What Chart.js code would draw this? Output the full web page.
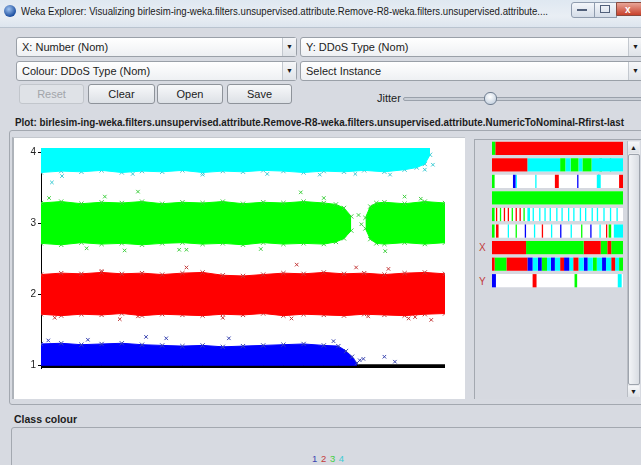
<!DOCTYPE html>
<html>
<head>
<meta charset="utf-8">
<script src="https://cdn.jsdelivr.net/npm/chart.js@4"></script>
<style>
  body { margin: 0; width: 641px; height: 465px; overflow: hidden; position: relative;
         background: #d7dae1; font-family: 'Liberation Sans', Arial, sans-serif; font-size: 11px; color: #1c1c1c; }
  .abs { position: absolute; }
  .titlebar { left: 0; top: 0; width: 641px; height: 27px;
              background: linear-gradient(#dfe8f1, #e9eef4 60%, #dde5ee); border-bottom: 1px solid #b9c3cf; }
  .combo { height: 18px; border: 1px solid #9aa0a8; border-radius: 3px; background: linear-gradient(#ffffff, #eef0f3); }
  .combo span { position: absolute; left: 5px; top: 3px; white-space: nowrap; }
  .combo b { position: absolute; right: 0; top: 0; width: 13px; height: 18px; font-size: 7px; line-height: 18px;
             text-align: center; font-weight: normal; background: linear-gradient(#f6f7f9, #dfe3e8); border-left: 1px solid #c3c8cf; }
  .btn { height: 18px; border: 1px solid #8e939a; border-radius: 3px; background: linear-gradient(#f7f8fa, #dde1e6);
         text-align: center; line-height: 18px; }
  .fit { white-space: nowrap; transform-origin: 0 50%; display: inline-block; }
  .frame { border: 1px solid #a3a8b0; border-radius: 3px; }
</style>
</head>
<body>
<div class="abs titlebar"></div>
<div class="abs" style="left:4px;top:5px;width:12px;height:12px;border-radius:6px;background:radial-gradient(circle at 40% 35%, #9fc3f0, #1d4fa0 70%);"></div>
<div class="abs fit" id="title" data-w="527" style="left:21px;top:5px;font-size:11.5px;color:#1a1a1a;">Weka Explorer: Visualizing birlesim-ing-weka.filters.unsupervised.attribute.Remove-R8-weka.filters.unsupervised.attribute....</div>
<div class="abs" style="left:571px;top:2px;width:22px;height:14px;border:1px solid #8f9cae;border-radius:3px 0 0 3px;background:linear-gradient(#f3f6fa,#d5dde8);"></div>
<div class="abs" style="left:577px;top:9px;width:10px;height:2px;background:#51607a;"></div>
<div class="abs" style="left:594px;top:2px;width:21px;height:14px;border:1px solid #8f9cae;background:linear-gradient(#f3f6fa,#d5dde8);"></div>
<div class="abs" style="left:600px;top:5px;width:8px;height:6px;border:1px solid #51607a;"></div>
<div class="abs" style="left:616px;top:2px;width:30px;height:14px;border:1px solid #8a4a3e;border-radius:0 3px 3px 0;background:linear-gradient(#e8a597,#c8412c);color:#fff;font-weight:bold;font-size:10px;line-height:14px;padding-left:8px;box-sizing:border-box;">x</div>

<div class="abs combo" style="left:16px;top:37px;width:279px;"><span>X: Number (Nom)</span><b>&#9660;</b></div>
<div class="abs combo" style="left:300px;top:37px;width:345px;"><span>Y: DDoS Type (Nom)</span><b style="right:4px">&#9660;</b></div>
<div class="abs combo" style="left:16px;top:61px;width:279px;"><span>Colour: DDoS Type (Nom)</span><b>&#9660;</b></div>
<div class="abs combo" style="left:300px;top:61px;width:345px;"><span>Select Instance</span><b style="right:4px">&#9660;</b></div>

<div class="abs btn" style="left:19px;top:84px;width:63px;color:#a2a5aa;border-color:#c2c6cc;background:#dfe2e7;">Reset</div>
<div class="abs btn" style="left:88px;top:84px;width:65px;">Clear</div>
<div class="abs btn" style="left:157px;top:84px;width:64px;">Open</div>
<div class="abs btn" style="left:227px;top:84px;width:63px;">Save</div>

<div class="abs" style="left:377px;top:92px;">Jitter</div>
<div class="abs" style="left:403px;top:97px;width:245px;height:2px;border:1px solid #9aa1ab;border-radius:2px;background:#c9ced6;"></div>
<div class="abs" style="left:484px;top:92px;width:11px;height:11px;border-radius:6px;border:1px solid #6f7d90;background:radial-gradient(circle at 45% 35%, #ffffff, #b7c6d8);"></div>

<div class="abs fit" id="plotlabel" data-w="609" style="left:15px;top:116px;font-weight:bold;font-size:10.5px;">Plot: birlesim-ing-weka.filters.unsupervised.attribute.Remove-R8-weka.filters.unsupervised.attribute.NumericToNominal-Rfirst-last</div>

<div class="abs frame" style="left:9px;top:130px;width:640px;height:273px;"></div>
<div class="abs" style="left:12px;top:137px;width:451px;height:261px;background:#fff;border-left:2px solid #aeb3ba;border-top:1px solid #c4c8ce;"></div>
<canvas id="plot" class="abs" width="430" height="236" style="left:20px;top:140px;"></canvas>

<div class="abs" style="left:474px;top:139px;width:166px;height:259px;border-left:1px solid #a3a8b0;border-top:1px solid #a3a8b0;background:#d6d9e0;"></div>
<canvas id="strips" class="abs" width="131" height="149" style="left:492px;top:140px;"></canvas>
<div class="abs" style="left:479px;top:242px;color:#c23b3b;font-size:10px;">X</div>
<div class="abs" style="left:479px;top:276px;color:#c23b3b;font-size:10px;">Y</div>
<div class="abs" style="left:627px;top:141px;width:12px;height:256px;background:#e8eaee;border-left:1px solid #b9bdc4;"></div>
<div class="abs" style="left:628px;top:142px;width:11px;height:11px;font-size:7px;text-align:center;line-height:11px;background:linear-gradient(#f6f7f9,#dde1e6);">&#9650;</div>
<div class="abs" style="left:628px;top:154px;width:10px;height:229px;border:1px solid #9ea4ad;border-radius:2px;background:linear-gradient(90deg,#f2f4f7,#d9dde3);"></div>
<div class="abs" style="left:628px;top:386px;width:11px;height:11px;font-size:7px;text-align:center;line-height:11px;background:linear-gradient(#f6f7f9,#dde1e6);">&#9660;</div>

<div class="abs" style="left:14px;top:413px;font-weight:bold;font-size:10.5px;">Class colour</div>
<div class="abs frame" style="left:11px;top:427px;width:640px;height:60px;"></div>
<div class="abs" id="classlegend" style="left:312px;top:453px;font-size:9.5px;word-spacing:1px;"></div>

<script>
// y ticks and class names / colours
const yTicks = [1, 2, 3, 4];
const classNames = ['1', '2', '3', '4'];
const classColours = ['#0000ff', '#ff0000', '#00ff00', '#00ffff'];
const markColours = ['#3a45b0', '#c43a3a', '#3fcf3f', '#3ccbd3'];

// class 4 band (cyan)
const cyanX = [0, 5, 10, 15, 20, 25, 30, 35, 40, 45, 50, 55, 60, 65, 70, 75, 80, 85, 90, 93, 95, 96.3];
const cyanTop = [4.1, 4.1, 4.1, 4.1, 4.1, 4.1, 4.1, 4.1, 4.1, 4.1, 4.1, 4.1, 4.1, 4.1, 4.1, 4.1, 4.1, 4.1, 4.1, 4.1, 4.1, 4.08];
const cyanBottom = [3.72, 3.74, 3.73, 3.75, 3.72, 3.74, 3.73, 3.75, 3.72, 3.74, 3.73, 3.75, 3.74, 3.72, 3.74, 3.73, 3.75, 3.73, 3.76, 3.79, 3.84, 3.97];

// class 3 band (green), two parts
const greenLeftX = [0, 5, 10, 15, 20, 25, 30, 35, 40, 45, 50, 55, 60, 65, 70, 73, 75, 76.8];
const greenLeftTop = [3.29, 3.31, 3.28, 3.30, 3.29, 3.31, 3.28, 3.30, 3.29, 3.31, 3.28, 3.30, 3.29, 3.31, 3.29, 3.27, 3.22, 3.10];
const greenLeftBottom = [2.72, 2.70, 2.73, 2.71, 2.72, 2.70, 2.72, 2.73, 2.71, 2.72, 2.70, 2.73, 2.71, 2.72, 2.71, 2.74, 2.79, 2.90];
const greenRightX = [80.3, 81.5, 83, 85, 90, 95, 100];
const greenRightTop = [3.08, 3.24, 3.29, 3.30, 3.28, 3.31, 3.29];
const greenRightBottom = [2.93, 2.78, 2.72, 2.71, 2.73, 2.71, 2.73];

// class 2 band (red)
const redX = [0, 5, 10, 15, 20, 25, 30, 35, 40, 45, 50, 55, 60, 65, 70, 75, 80, 85, 90, 95, 100];
const redTop = [2.28, 2.30, 2.29, 2.31, 2.29, 2.30, 2.28, 2.30, 2.31, 2.27, 2.26, 2.28, 2.30, 2.29, 2.31, 2.29, 2.30, 2.28, 2.30, 2.31, 2.29];
const redBottom = [1.72, 1.70, 1.72, 1.71, 1.73, 1.70, 1.72, 1.71, 1.70, 1.72, 1.71, 1.73, 1.70, 1.72, 1.71, 1.70, 1.72, 1.71, 1.70, 1.72, 1.73];

// class 1 band (blue)
const blueX = [0, 5, 10, 15, 20, 25, 30, 35, 40, 45, 50, 55, 60, 65, 70, 73.6, 75.5, 77, 78.2];
const blueTop = [1.30, 1.31, 1.29, 1.30, 1.31, 1.29, 1.28, 1.27, 1.28, 1.26, 1.27, 1.28, 1.29, 1.30, 1.28, 1.27, 1.20, 1.12, 1.03];
const blueBottom = [1, 1, 1, 1, 1, 1, 1, 1, 1, 1, 1, 1, 1, 1, 1, 1, 1, 1, 1];

// stray points outside the bands
const blueOut = [[1.8, 1.35], [11.6, 1.36], [26, 1.40], [31, 1.38], [46.5, 1.38], [72.4, 1.34], [78.9, 1.07], [79.8, 1.09], [85, 1.12], [87.6, 1.05]];
const redOut = [[3.4, 1.67], [15, 2.33], [19.5, 1.65], [24, 1.69], [36, 2.38], [45, 1.67], [62, 1.66], [63.3, 2.42], [78, 2.38], [81, 1.69], [86, 2.36], [91, 1.66], [92.6, 1.68], [96.6, 1.64]];
const greenOut = [[2, 3.36], [11.3, 2.65], [15.8, 3.38], [20.7, 2.62], [24, 3.45], [34.2, 2.63], [36, 2.63], [54.4, 2.64], [64.3, 3.44], [70, 3.36], [78.6, 3.12], [79.3, 2.99], [85.2, 2.61], [90, 3.38], [94, 3.35]];
const cyanOut = [[2.7, 3.58], [5.2, 3.67], [22.7, 3.70], [40, 3.69], [56, 3.70], [69, 3.69], [77.8, 3.70], [86.4, 3.69], [95, 3.76], [97, 3.83]];

// x axis bar along y = 1
const axisX = [0, 100];
const axisY = [0.985, 0.985];

// attribute strips on the right: [start, end, class index]
const stripNames = ['a1', 'a2', 'a3', 'a4', 'a5', 'a6', 'a7', 'a8', 'a9'];
const strip1 = [[0, 2.5, 2], [2.5, 100, 1]];
const strip2 = [[0, 27, 1], [27, 52, 3], [52, 56, 2], [56, 60, 3], [60, 66, 2], [66, 69, 3], [69, 76, 2], [76, 100, 3], [82, 84, 2], [90, 91, 2]];
const strip3 = [[0, 2, 2], [16, 18, 0], [18, 19, 3], [33, 34, 3], [48, 51, 1], [65, 66, 0], [80, 83, 3], [81, 82, 0], [97, 100, 1]];
const strip4 = [[0, 100, 2]];
const strip5 = [[0, 2, 2], [3, 4, 1], [6, 7, 2], [9, 10, 1], [12, 13, 1], [15, 16, 2], [18, 19, 1], [21, 22, 1], [24, 25, 2], [27, 29, 3], [31, 32, 3], [36, 37, 3], [40, 41, 3], [44, 45, 3], [49, 50, 3], [53, 54, 3], [58, 59, 3], [62, 63, 3], [67, 68, 3], [71, 72, 3], [76, 77, 3], [80, 81, 3], [85, 86, 3], [90, 91, 3], [95, 96, 3]];
const strip6 = [[0, 2, 2], [3, 5, 1], [12, 13, 3], [18, 19, 2], [25, 26, 0], [32, 33, 3], [38, 39, 1], [45, 46, 3], [52, 53, 0], [60, 61, 3], [68, 69, 2], [75, 76, 0], [82, 83, 3], [87, 88, 1], [89, 91, 2], [93, 100, 3]];
const strip7 = [[0, 26, 1], [26, 70, 2], [70, 83, 1], [83, 88, 2], [88, 91, 1], [91, 100, 2]];
const strip8 = [[0, 2, 1], [2, 11, 2], [11, 27, 1], [27, 31, 0], [31, 35, 3], [35, 38, 0], [38, 42, 2], [42, 45, 3], [45, 48, 0], [48, 52, 3], [52, 55, 1], [55, 59, 0], [59, 62, 3], [62, 66, 1], [66, 70, 3], [70, 73, 0], [73, 77, 3], [77, 80, 2], [80, 84, 3], [84, 87, 0], [87, 91, 3], [91, 94, 1], [94, 97, 3], [97, 100, 2]];
const strip9 = [[0, 3, 0], [31, 34, 1], [63, 65, 2], [96, 99, 3]];
const strips = [strip1, strip2, strip3, strip4, strip5, strip6, strip7, strip8, strip9];

// helper to zip x and y arrays into points
function pts(xs, ys) {
    return xs.map((x, i) => ({ x: x, y: ys[i] }));
}
function outPts(list) {
    return list.map(p => ({ x: p[0], y: p[1] }));
}

// band datasets: upper edge fills down to the lower edge
function band(xs, top, bottom, c, topMarks, bottomMarks) {
    return [{
        data: pts(xs, top), fill: '+1', backgroundColor: classColours[c], borderColor: classColours[c], borderWidth: 1,
        pointStyle: 'crossRot', pointRadius: topMarks ? 3 : 0, pointBorderColor: markColours[c], pointBorderWidth: 1
    }, {
        data: pts(xs, bottom), fill: false, borderColor: classColours[c], borderWidth: 1,
        pointStyle: 'crossRot', pointRadius: bottomMarks ? 3 : 0, pointBorderColor: markColours[c], pointBorderWidth: 1
    }];
}
function strays(list, c) {
    return {
        data: outPts(list), showLine: false, pointStyle: 'crossRot', pointRadius: 2.5,
        pointBorderColor: markColours[c], pointBorderWidth: 1
    };
}

const plotSets = [].concat(
    band(cyanX, cyanTop, cyanBottom, 3, false, true),
    band(greenLeftX, greenLeftTop, greenLeftBottom, 2, true, true),
    band(greenRightX, greenRightTop, greenRightBottom, 2, true, true),
    band(redX, redTop, redBottom, 1, true, true),
    band(blueX, blueTop, blueBottom, 0, true, false),
    [{ data: pts(axisX, axisY), borderColor: '#000', borderWidth: 4, pointRadius: 0, fill: false }],
    [strays(blueOut, 0), strays(redOut, 1), strays(greenOut, 2), strays(cyanOut, 3)]
);

const plot = new Chart(document.getElementById('plot').getContext('2d'), {
    type: 'line',
    data: { datasets: plotSets },
    options: {
        responsive: false,
        animation: false,
        layout: { padding: { left: 0, right: 3, top: 0, bottom: 0 } },
        plugins: { legend: { display: false }, tooltip: { enabled: false } },
        scales: {
            x: { type: 'linear', min: 0, max: 100, display: false },
            y: {
                type: 'linear', min: 0.961, max: 4.066,
                afterFit: (s) => { s.width = 21; },
                afterBuildTicks: (s) => { s.ticks = yTicks.map(v => ({ value: v })); },
                ticks: { color: '#222', padding: 2, font: { family: 'Liberation Sans', size: 10 } },
                grid: { drawOnChartArea: false, tickLength: 3, color: '#000' },
                border: { display: true, color: '#000', width: 1 }
            }
        }
    }
});

// strip chart: white background row plus one floating bar per segment
const stripSets = [{
    data: stripNames.map(() => [0, 100]), backgroundColor: '#ffffff', grouped: false, order: 2
}];
strips.forEach((segs, r) => {
    segs.forEach(s => {
        stripSets.push({
            data: stripNames.map((_, i) => i === r ? [s[0], s[1]] : null),
            backgroundColor: classColours[s[2]], grouped: false, order: 1
        });
    });
});

const stripChart = new Chart(document.getElementById('strips').getContext('2d'), {
    type: 'bar',
    data: { labels: stripNames, datasets: stripSets },
    options: {
        indexAxis: 'y',
        responsive: false,
        animation: false,
        barPercentage: 0.8,
        categoryPercentage: 1,
        layout: { padding: 0 },
        plugins: { legend: { display: false }, tooltip: { enabled: false } },
        scales: {
            x: { type: 'linear', min: 0, max: 100, display: false },
            y: { display: false }
        }
    }
});

// class colour legend
const legend = document.getElementById('classlegend');
classNames.forEach((n, i) => {
    const sp = document.createElement('span');
    sp.textContent = n + ' ';
    sp.style.color = markColours[i];
    legend.appendChild(sp);
});

// squeeze long labels to the width they have in the window
document.querySelectorAll('.fit').forEach(el => {
    const w = el.getBoundingClientRect().width;
    el.style.transform = 'scaleX(' + (parseFloat(el.dataset.w) / w) + ')';
});
</script>
</body>
</html>
